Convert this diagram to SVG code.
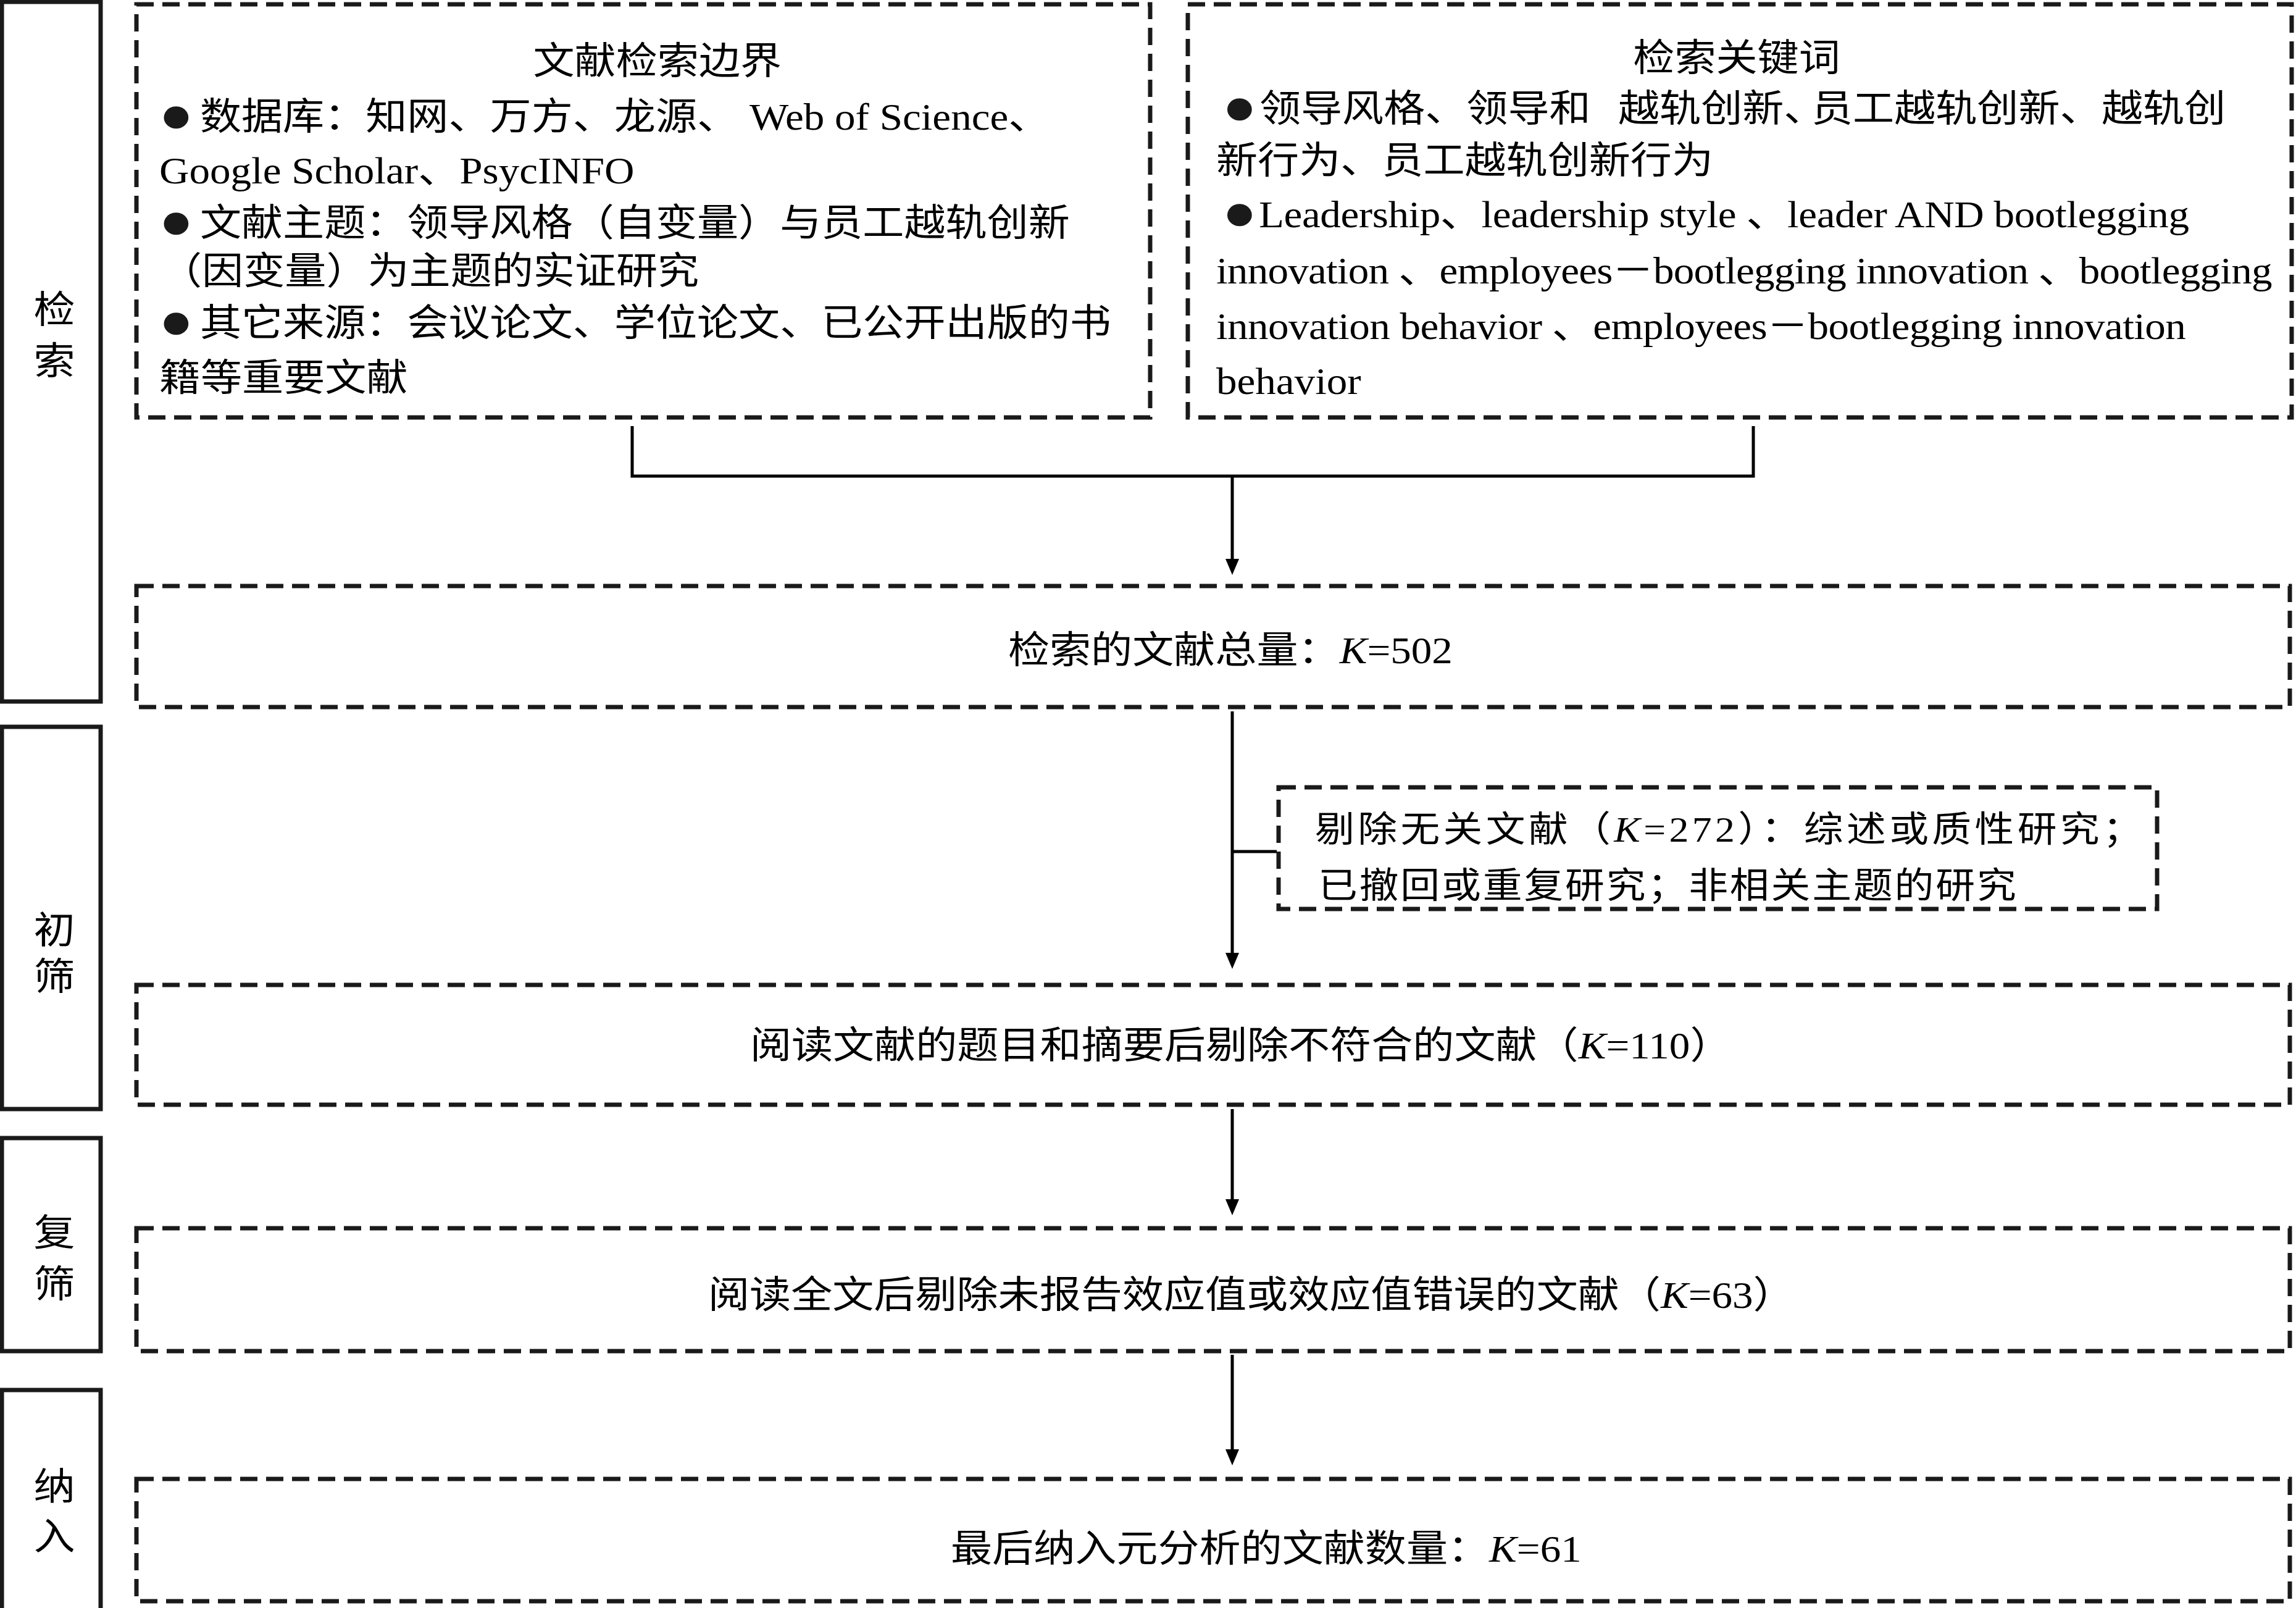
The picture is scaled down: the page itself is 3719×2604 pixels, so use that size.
<svg xmlns="http://www.w3.org/2000/svg" width="3719" height="2604" viewBox="0 0 3719 2604">
<style>
.dbox{fill:none;stroke:#1a1a1a;stroke-width:7;stroke-dasharray:28 14}
.sbox{fill:none;stroke:#1a1a1a;stroke-width:7}
.conn{fill:none;stroke:#000;stroke-width:5}
.t{font-family:"Liberation Serif","Noto Sans CJK SC",serif;font-size:61px;fill:#000}
.s{font-size:58px}
.k{font-style:italic}
.b{font-size:84px;fill:#1a1a1a}
</style>
<defs>
<marker id="ah" markerUnits="userSpaceOnUse" markerWidth="26" markerHeight="22" refX="15" refY="11" orient="auto" viewBox="0 0 26 22"><path d="M0,0 L26,11 L0,22 Z" fill="#000"/></marker>
</defs>
<rect width="3719" height="2604" fill="#fff"/>

<g id="stage-search">
<rect class="sbox" x="3" y="3" width="160" height="1133"/>
<g transform="scale(1.1 1)"><text class="t" text-anchor="middle"><tspan x="80" y="523">检</tspan><tspan x="80" y="606">索</tspan></text></g>
</g>
<g id="stage-initial">
<rect class="sbox" x="3" y="1177" width="160" height="619"/>
<g transform="scale(1.1 1)"><text class="t" text-anchor="middle"><tspan x="80" y="1528">初</tspan><tspan x="80" y="1603">筛</tspan></text></g>
</g>
<g id="stage-review">
<rect class="sbox" x="3" y="1843" width="160" height="345"/>
<g transform="scale(1.1 1)"><text class="t" text-anchor="middle"><tspan x="80" y="2018">复</tspan><tspan x="80" y="2101">筛</tspan></text></g>
</g>
<g id="stage-include">
<rect class="sbox" x="3" y="2251" width="160" height="360"/>
<g transform="scale(1.1 1)"><text class="t" text-anchor="middle"><tspan x="80" y="2429">纳</tspan><tspan x="80" y="2510">入</tspan></text></g>
</g>

<g id="boundary">
<rect class="dbox" x="221" y="7" width="1642" height="669"/>
<g transform="scale(1.1 1)">
<text class="t" x="968" y="120" text-anchor="middle">文献检索边界</text>
<text class="t"><tspan class="b" x="234" y="214">●</tspan><tspan x="294.5" y="210">数据库：知网、万方、龙源、</tspan><tspan x="1103.6" y="210">Web of Science、</tspan></text>
<text class="t" x="234.5" y="297">Google Scholar、PsycINFO</text>
<text class="t"><tspan class="b" x="234" y="386">●</tspan><tspan x="294.5" y="382">文献主题：领导风格（自变量）与员工越轨创新</tspan></text>
<text class="t" x="236.4" y="460">（因变量）为主题的实证研究</text>
<text class="t"><tspan class="b" x="234" y="548">●</tspan><tspan x="294.5" y="544">其它来源：会议论文、学位论文、已公开出版的书</tspan></text>
<text class="t" x="234.5" y="633">籍等重要文献</text>
</g>
</g>

<g id="keywords">
<rect class="dbox" x="1924" y="7" width="1788" height="669"/>
<g transform="scale(1.1 1)">
<text class="t" x="2557.3" y="115" text-anchor="middle">检索关键词</text>
<text class="t"><tspan class="b" x="1800" y="201">●</tspan><tspan x="1854.5" y="197">领导风格、领导和</tspan><tspan x="2382.7" y="197">越轨创新、</tspan><tspan x="2667.3" y="197">员工越轨创新、</tspan><tspan x="3094.5" y="197">越轨创</tspan></text>
<text class="t" x="1790.9" y="281">新行为、员工越轨创新行为</text>
<text class="t"><tspan class="b" x="1800" y="372">●</tspan><tspan x="1853.6" y="368" textLength="1370">Leadership、leadership style 、leader AND bootlegging</tspan></text>
<text class="t" x="1790.9" y="459" textLength="1555">innovation 、employees－bootlegging innovation 、bootlegging</text>
<text class="t" x="1790.9" y="549" textLength="1428">innovation behavior 、employees－bootlegging innovation</text>
<text class="t" x="1790.9" y="638">behavior</text>
</g>
</g>

<g id="total">
<rect class="dbox" x="221" y="949" width="3488" height="196"/>
<g transform="scale(1.1 1)"><text class="t" x="1484.5" y="1074">检索的文献总量：<tspan class="k">K</tspan>=502</text></g>
</g>

<g id="excluded">
<rect class="dbox" x="2071" y="1275" width="1423" height="197"/>
<g transform="scale(1.1 1)">
<text class="t s" x="1936.4" y="1363" textLength="1218">剔除无关文献（<tspan class="k">K</tspan>=272）：综述或质性研究；</text>
<text class="t s" x="1940.9" y="1454" textLength="1028">已撤回或重复研究；非相关主题的研究</text>
</g>
</g>

<g id="title-abstract">
<rect class="dbox" x="221" y="1595" width="3488" height="194"/>
<g transform="scale(1.1 1)"><text class="t" x="1104.5" y="1714">阅读文献的题目和摘要后剔除不符合的文献（<tspan class="k">K</tspan>=110）</text></g>
</g>

<g id="fulltext">
<rect class="dbox" x="221" y="1989" width="3488" height="199"/>
<g transform="scale(1.1 1)"><text class="t" x="1042.7" y="2118">阅读全文后剔除未报告效应值或效应值错误的文献（<tspan class="k">K</tspan>=63）</text></g>
</g>

<g id="final">
<rect class="dbox" x="221" y="2395" width="3488" height="198"/>
<g transform="scale(1.1 1)"><text class="t" x="1400" y="2529">最后纳入元分析的文献数量：<tspan class="k">K</tspan>=61</text></g>
</g>

<g id="connectors">
<path class="conn" d="M1024,690 V771 H2840 V690"/>
<path class="conn" d="M1996,771 V920" marker-end="url(#ah)"/>
<path class="conn" d="M1996,1152 V1558" marker-end="url(#ah)"/>
<path class="conn" d="M1996,1379 H2068"/>
<path class="conn" d="M1996,1796 V1957" marker-end="url(#ah)"/>
<path class="conn" d="M1996,2194 V2362" marker-end="url(#ah)"/>
</g>
</svg>
